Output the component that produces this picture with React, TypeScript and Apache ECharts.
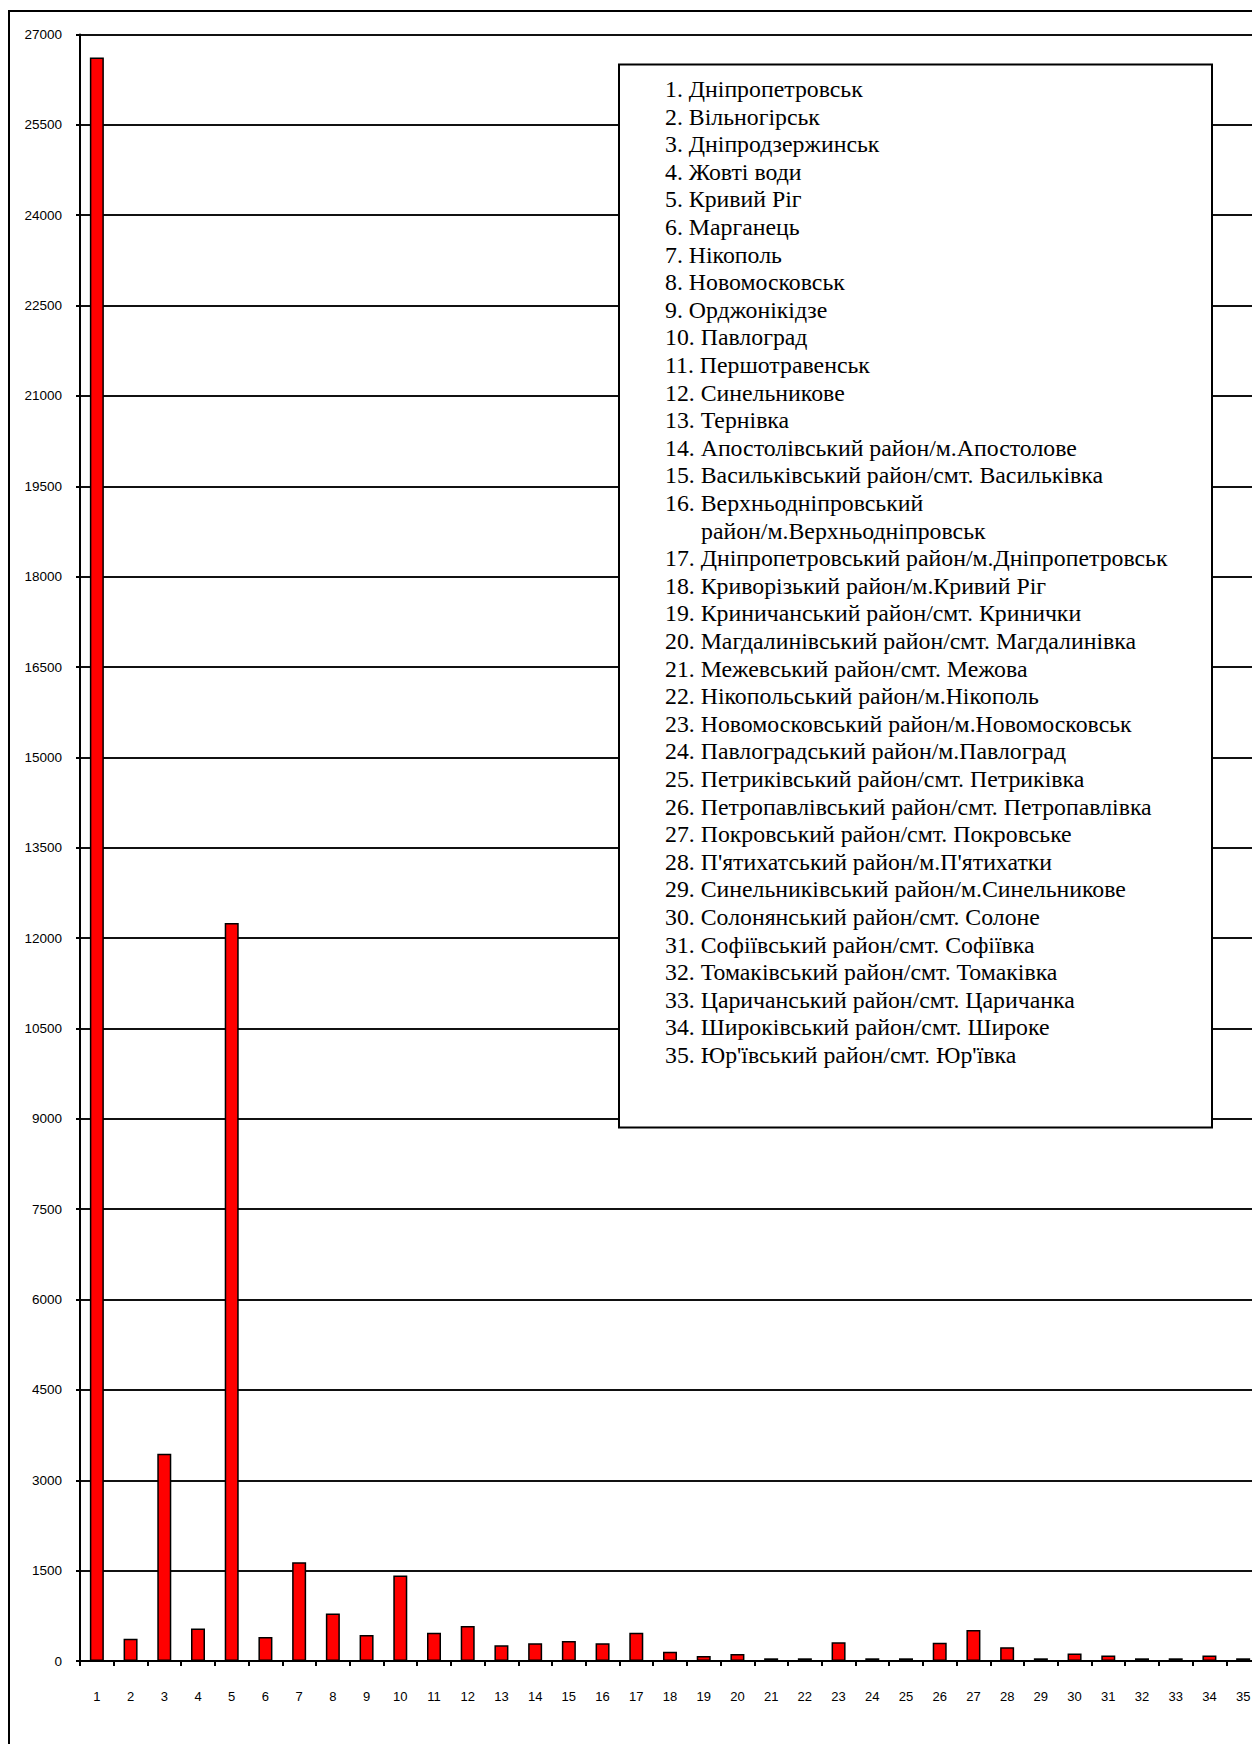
import React, { useEffect, useRef } from "react";
import * as echarts from "echarts";

const categories = [
  "1", "2", "3", "4", "5", "6", "7", "8", "9", "10",
  "11", "12", "13", "14", "15", "16", "17", "18", "19", "20",
  "21", "22", "23", "24", "25", "26", "27", "28", "29", "30",
  "31", "32", "33", "34", "35",
];

const values = [
  26620, 370, 3440, 540, 12250, 400, 1640, 790, 430, 1420,
  470, 580, 260, 295, 330, 295, 470, 155, 85, 115,
  45, 45, 310, 45, 45, 305, 515, 230, 45, 125,
  90, 45, 45, 90, 45,
];

const yMin = 0;
const yMax = 27000;
const yInterval = 1500;

const legendLines = [
  "1. Дніпропетровськ",
  "2. Вільногірськ",
  "3. Дніпродзержинськ",
  "4. Жовті води",
  "5. Кривий Ріг",
  "6. Марганець",
  "7. Нікополь",
  "8. Новомосковськ",
  "9. Орджонікідзе",
  "10. Павлоград",
  "11. Першотравенськ",
  "12. Синельникове",
  "13. Тернівка",
  "14. Апостолівський район/м.Апостолове",
  "15. Васильківський район/смт. Васильківка",
  "16. Верхньодніпровський",
  "\tрайон/м.Верхньодніпровськ",
  "17. Дніпропетровський район/м.Дніпропетровськ",
  "18. Криворізький район/м.Кривий Ріг",
  "19. Криничанський район/смт. Кринички",
  "20. Магдалинівський район/смт. Магдалинівка",
  "21. Межевський район/смт. Межова",
  "22. Нікопольський район/м.Нікополь",
  "23. Новомосковський район/м.Новомосковськ",
  "24. Павлоградський район/м.Павлоград",
  "25. Петриківський район/смт. Петриківка",
  "26. Петропавлівський район/смт. Петропавлівка",
  "27. Покровський район/смт. Покровське",
  "28. П'ятихатський район/м.П'ятихатки",
  "29. Синельниківський район/м.Синельникове",
  "30. Солонянський район/смт. Солоне",
  "31. Софіївський район/смт. Софіївка",
  "32. Томаківський район/смт. Томаківка",
  "33. Царичанський район/смт. Царичанка",
  "34. Широківський район/смт. Широке",
  "35. Юр'ївський район/смт. Юр'ївка",
];

export default function App() {
  const ref = useRef<HTMLDivElement>(null);

  useEffect(() => {
    if (!ref.current) return;
    const chart = echarts.init(ref.current, null, { renderer: "svg" });

    const legendX = 665;
    const indentX = 701;
    const firstY = 89;
    const lineStep = 27.6;

    const legendTexts = legendLines.map((line, i) => {
      const isIndent = line.startsWith("\t");
      return {
        type: "text",
        x: isIndent ? indentX : legendX,
        y: firstY + i * lineStep,
        z: 102,
        style: {
          text: isIndent ? line.slice(1) : line,
          fontFamily: "Liberation Serif",
          fontSize: 23.8,
          fill: "#000",
          textVerticalAlign: "middle",
          textAlign: "left",
        },
      };
    });

    chart.setOption({
      animation: false,
      backgroundColor: "#fff",
      grid: {
        left: 80,
        top: 34.5,
        right: 10,
        bottom: 99,
        containLabel: false,
      },
      xAxis: {
        type: "category",
        data: categories,
        boundaryGap: true,
        axisLine: { show: true, lineStyle: { color: "#000", width: 2 } },
        axisTick: {
          show: true,
          alignWithLabel: false,
          length: 5,
          lineStyle: { color: "#000", width: 2 },
        },
        axisLabel: {
          margin: 29,
          color: "#000",
          fontFamily: "Liberation Sans",
          fontSize: 13,
          interval: 0,
        },
        splitLine: { show: false },
      },
      yAxis: {
        type: "value",
        min: yMin,
        max: yMax,
        interval: yInterval,
        axisLine: { show: true, lineStyle: { color: "#000", width: 2 } },
        axisTick: {
          show: true,
          length: 4,
          lineStyle: { color: "#000", width: 2 },
        },
        axisLabel: {
          margin: 18,
          color: "#000",
          fontFamily: "Liberation Sans",
          fontSize: 13.5,
          formatter: (v: number) => String(v),
        },
        splitLine: { show: true, lineStyle: { color: "#111", width: 2 } },
      },
      series: [
        {
          type: "bar",
          data: values,
          barWidth: 14,
          itemStyle: {
            color: "#ff0000",
            borderColor: "#000",
            borderWidth: 1.5,
          },
        },
      ],
      graphic: [
        {
          type: "rect",
          shape: { x: 9, y: 11, width: 1400, height: 1900 },
          z: 100,
          silent: true,
          style: { fill: "none", stroke: "#000", lineWidth: 2 },
        },
        {
          type: "rect",
          shape: { x: 619, y: 64.5, width: 593, height: 1063 },
          z: 101,
          style: { fill: "#fff", stroke: "#000", lineWidth: 2 },
        },
        ...legendTexts,
      ],
    });

    return () => chart.dispose();
  }, []);

  return (
    <div
      style={{
        position: "absolute",
        left: 0,
        top: 0,
        width: 1252,
        height: 1744,
        overflow: "hidden",
        background: "#fff",
      }}
    >
      <div ref={ref} style={{ width: 1270, height: 1760 }} />
    </div>
  );
}
